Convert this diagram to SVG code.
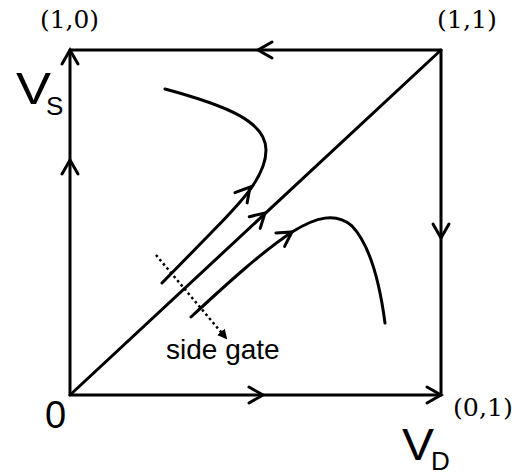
<svg xmlns="http://www.w3.org/2000/svg" xmlns:xlink="http://www.w3.org/1999/xlink" width="528" height="475" viewBox="0 0 528 475">
<style>
.ln{fill:none;stroke:#000;stroke-width:3;stroke-linecap:round;stroke-linejoin:round}
.chev{fill:none;stroke:#000;stroke-width:3;stroke-linecap:round;stroke-linejoin:miter}
.lbl{font-family:"Liberation Sans",Arial,sans-serif;fill:#000}
.coord{font-family:"DejaVu Serif","Liberation Serif",serif;font-size:24px;fill:#000}
</style>
<defs>
<path id="chev" class="chev" d="M-14,-8 L0,0 L-14,8"/>
<marker id="solid" markerWidth="10" markerHeight="10" refX="8" refY="5" orient="auto" markerUnits="userSpaceOnUse">
<path d="M0,0 L10,5 L0,10 Z" fill="#000"/>
</marker>
</defs>
<g id="box">
<rect x="70" y="50" width="371" height="345" class="ln" stroke-linecap="square"/>
</g>
<g id="connectors">
<line id="diagonal" x1="70" y1="395" x2="441" y2="50" class="ln"/>
<path id="curve1" class="ln" d="M165,89 C228,106 266,122 266,150 C266,178 238,205 210,234 L162,283"/>
<path id="curve3" class="ln" d="M191,317 C230,281 262,252 292,232 C316,217 336,212 352,226 C370,245 380,285 385,323"/>
<line id="sidegate-arrow" x1="156" y1="255" x2="226" y2="338" stroke="#000" stroke-width="2.5" stroke-dasharray="2.5,3" marker-end="url(#solid)"/>
<use xlink:href="#chev" transform="translate(70,50) rotate(-90)"/>
<use xlink:href="#chev" transform="translate(70,160) rotate(-90)"/>
<use xlink:href="#chev" transform="translate(258,50) rotate(180)"/>
<use xlink:href="#chev" transform="translate(441,238) rotate(90)"/>
<use xlink:href="#chev" transform="translate(263,395)"/>
<use xlink:href="#chev" transform="translate(441,395)"/>
<use xlink:href="#chev" transform="translate(250,187) rotate(-50)"/>
<use xlink:href="#chev" transform="translate(265,213) rotate(-42.9)"/>
<use xlink:href="#chev" transform="translate(292,232) rotate(-33)"/>
</g>
<g id="labels">
<text class="coord" x="40" y="28" textLength="59" lengthAdjust="spacingAndGlyphs">(1,0)</text>
<text class="coord" x="437" y="28" textLength="60" lengthAdjust="spacingAndGlyphs">(1,1)</text>
<text class="coord" x="453" y="416" textLength="60" lengthAdjust="spacingAndGlyphs">(0,1)</text>
<text class="lbl" x="16" y="104" font-size="44" textLength="35" lengthAdjust="spacingAndGlyphs">V</text>
<text class="lbl" x="46" y="115" font-size="26">S</text>
<text class="lbl" x="402" y="460" font-size="44" textLength="32" lengthAdjust="spacingAndGlyphs">V</text>
<text class="lbl" x="431" y="470" font-size="26">D</text>
<text class="lbl" x="45" y="428" font-size="38">0</text>
<text class="lbl" x="166" y="359" font-size="28">side gate</text>
</g>
</svg>
